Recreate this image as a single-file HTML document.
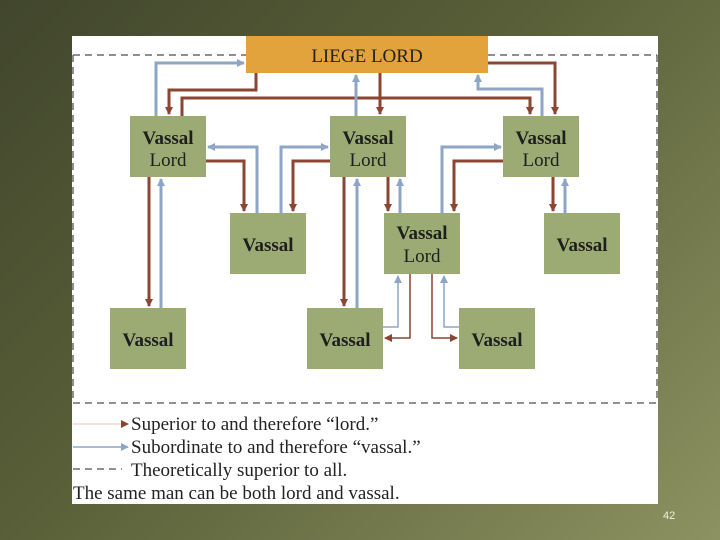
<!DOCTYPE html>
<html><head><meta charset="utf-8"><style>
body{margin:0;width:720px;height:540px;overflow:hidden;background:linear-gradient(135deg,#41462d 0%,#5a6038 45%,#8d9262 100%);font-family:"Liberation Serif",serif;}
</style></head><body>
<svg width="720" height="540" xmlns="http://www.w3.org/2000/svg" style="position:absolute;left:0;top:0">
<defs>
<marker id="b" markerWidth="8" markerHeight="8" refX="7" refY="4" orient="auto" markerUnits="userSpaceOnUse"><path d="M0,0 L8,4 L0,8 z" fill="#8b4530"/></marker>
<marker id="u" markerWidth="8" markerHeight="8" refX="7" refY="4" orient="auto" markerUnits="userSpaceOnUse"><path d="M0,0 L8,4 L0,8 z" fill="#8ea6c6"/></marker>
</defs>
<rect x="72" y="36" width="586" height="468" fill="#fff"/>
<g stroke="#6a6a6a" stroke-width="1.5" stroke-dasharray="7,5" fill="none">
<path d="M73,55 H246"/><path d="M488,55 H657"/><path d="M73,55 V403"/><path d="M657,55 V403"/><path d="M73,403 H657"/>
<path d="M73,469 H122"/>
</g>
<rect x="246" y="36" width="242" height="37" fill="#e3a33c"/>
<text x="367" y="62" text-anchor="middle" font-size="19" fill="#222">LIEGE LORD</text>
<g fill="#9bab73">
<rect x="130" y="116" width="76" height="61"/><rect x="330" y="116" width="76" height="61"/><rect x="503" y="116" width="76" height="61"/>
<rect x="230" y="213" width="76" height="61"/><rect x="384" y="213" width="76" height="61"/><rect x="544" y="213" width="76" height="61"/>
<rect x="110" y="308" width="76" height="61"/><rect x="307" y="308" width="76" height="61"/><rect x="459" y="308" width="76" height="61"/>
</g>
<g font-size="19" fill="#1e1e1e" text-anchor="middle">
<text x="168" y="144" font-weight="bold">Vassal</text><text x="168" y="166">Lord</text>
<text x="368" y="144" font-weight="bold">Vassal</text><text x="368" y="166">Lord</text>
<text x="541" y="144" font-weight="bold">Vassal</text><text x="541" y="166">Lord</text>
<text x="268" y="251" font-weight="bold">Vassal</text>
<text x="422" y="239" font-weight="bold">Vassal</text><text x="422" y="262">Lord</text>
<text x="582" y="251" font-weight="bold">Vassal</text>
<text x="148" y="346" font-weight="bold">Vassal</text>
<text x="345" y="346" font-weight="bold">Vassal</text>
<text x="497" y="346" font-weight="bold">Vassal</text>
</g>
<g fill="none" stroke="#8b4530" stroke-width="3">
<path d="M256,73 V90 H169 V114" marker-end="url(#b)"/>
<path d="M182,116 V98 H530 V114" marker-end="url(#b)"/>
<path d="M380,73 V114" marker-end="url(#b)"/>
<path d="M488,63 H555 V114" marker-end="url(#b)"/>
<path d="M206,161 H244 V211" marker-end="url(#b)"/>
<path d="M330,161 H293 V211" marker-end="url(#b)"/>
<path d="M503,161 H454 V211" marker-end="url(#b)"/>
<path d="M149,177 V306" marker-end="url(#b)"/>
<path d="M344,177 V306" marker-end="url(#b)"/>
<path d="M388,177 V211" marker-end="url(#b)"/>
<path d="M553,177 V211" marker-end="url(#b)"/>
</g>
<g fill="none" stroke="#8ea6c6" stroke-width="3">
<path d="M156,116 V63 H244" marker-end="url(#u)"/>
<path d="M356,116 V75" marker-end="url(#u)"/>
<path d="M542,116 V89 H478 V75" marker-end="url(#u)"/>
<path d="M257,213 V147 H208" marker-end="url(#u)"/>
<path d="M281,213 V147 H328" marker-end="url(#u)"/>
<path d="M442,213 V147 H501" marker-end="url(#u)"/>
<path d="M161,308 V179" marker-end="url(#u)"/>
<path d="M357,308 V179" marker-end="url(#u)"/>
<path d="M400,213 V179" marker-end="url(#u)"/>
<path d="M565,213 V179" marker-end="url(#u)"/>
</g>
<g fill="none" stroke-width="1.5">
<path d="M383,327 H398 V276" stroke="#8ea6c6" marker-end="url(#u)"/>
<path d="M459,327 H444 V276" stroke="#8ea6c6" marker-end="url(#u)"/>
<path d="M410,274 V338 H385" stroke="#8b4530" marker-end="url(#b)"/>
<path d="M432,274 V338 H457" stroke="#8b4530" marker-end="url(#b)"/>
<path d="M73,424 H128" stroke="#f0d8cc" marker-end="url(#b)"/>
<path d="M73,447 H128" stroke="#8ea6c6" marker-end="url(#u)"/>
</g>
<g font-size="19" fill="#222">
<text x="131" y="430">Superior to and therefore “lord.”</text>
<text x="131" y="453">Subordinate to and therefore “vassal.”</text>
<text x="131" y="476">Theoretically superior to all.</text>
<text x="73" y="499">The same man can be both lord and vassal.</text>
</g>
<text x="663" y="519" font-family="Liberation Sans,sans-serif" font-size="11" fill="#f4f0dc">42</text>
</svg>
</body></html>
